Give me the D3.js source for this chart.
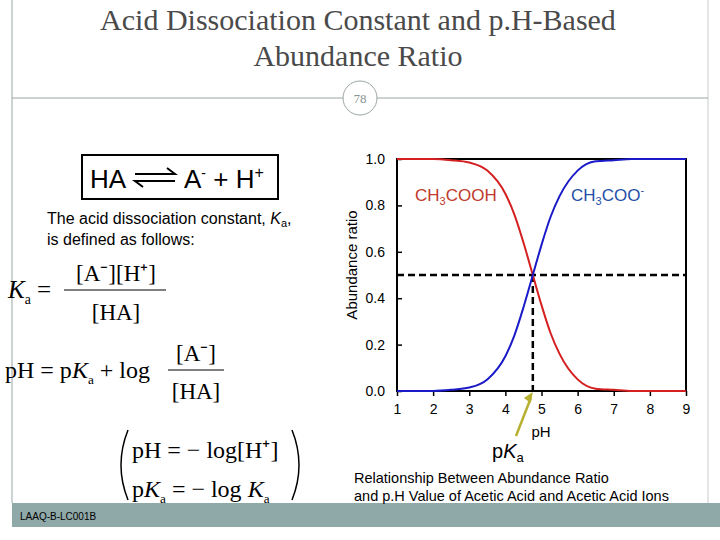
<!DOCTYPE html>
<html><head><meta charset="utf-8">
<script src="https://cdn.jsdelivr.net/npm/d3@7"></script>
<style>body{margin:0;background:#fff}svg{display:block}</style>
</head><body>
<script>
const pH = [1,1.5,2,2.5,3,3.5,4,4.25,4.5,4.76,5,5.25,5.5,6,6.5,7,7.5,8,8.5,9];
const acid = [1,1,1,0.995,0.985,0.95,0.85,0.76,0.64,0.5,0.37,0.25,0.16,0.05,0.01,0.005,0,0,0,0];
const base = [0,0,0,0.005,0.015,0.05,0.15,0.24,0.36,0.5,0.63,0.75,0.84,0.95,0.99,0.995,1,1,1,1];
const xTicks = [1,2,3,4,5,6,7,8,9];
const yTicks = [0,0.2,0.4,0.6,0.8,1.0];
const pKa = 4.76;

const svg = d3.select("body").append("svg").attr("width",720).attr("height",540);
svg.append("line").attr("x1",12).attr("x2",12).attr("y1",0).attr("y2",503).attr("stroke","#9aa5a5");
svg.append("line").attr("x1",708).attr("x2",708).attr("y1",0).attr("y2",503).attr("stroke","#c8cccc");
svg.append("line").attr("x1",12).attr("x2",708).attr("y1",98).attr("y2",98).attr("stroke","#9aa5a5");
svg.append("circle").attr("cx",360).attr("cy",98).attr("r",17).attr("fill","#fff").attr("stroke","#9aa5a5");
svg.append("text").attr("x",360).attr("y",103).attr("text-anchor","middle").attr("font-family","Liberation Serif").attr("font-size",13).attr("fill","#8a9595").text("78");
svg.append("rect").attr("x",12).attr("y",503).attr("width",708).attr("height",24).attr("fill","#8fa8a8");
svg.append("text").attr("x",20).attr("y",520).attr("font-family","Liberation Sans").attr("font-size",10).text("LAAQ-B-LC001B");
const title = svg.append("text").attr("text-anchor","middle").attr("font-family","Liberation Serif").attr("font-size",30).attr("fill","#4a4a4a");
title.append("tspan").attr("x",358).attr("y",30).text("Acid Dissociation Constant and p.H-Based");
title.append("tspan").attr("x",358).attr("y",66).text("Abundance Ratio");

svg.append("rect").attr("x",82).attr("y",155).attr("width",196).attr("height",44).attr("fill","none").attr("stroke","#000").attr("stroke-width",2);
svg.append("text").attr("x",90).attr("y",188).attr("font-family","Liberation Sans").attr("font-size",26).text("HA");
svg.append("path").attr("d","M135 174 H175 L167 168 M175 181 H135 L143 187").attr("fill","none").attr("stroke","#000").attr("stroke-width",2);
const eq2 = svg.append("text").attr("x",184).attr("y",188).attr("font-family","Liberation Sans").attr("font-size",26);
eq2.append("tspan").text("A");eq2.append("tspan").attr("dy",-10).attr("font-size",14).text("-");
eq2.append("tspan").attr("dy",10).text(" + H");eq2.append("tspan").attr("dy",-10).attr("font-size",16).text("+");
const t1 = svg.append("text").attr("font-family","Liberation Sans").attr("font-size",16);
const l1 = t1.append("tspan").attr("x",47).attr("y",224).text("The acid dissociation constant, ");
l1.append("tspan").attr("font-style","italic").text("K");
l1.append("tspan").attr("font-size",11).attr("dy",3).text("a");
l1.append("tspan").attr("dy",-3).text(",");
t1.append("tspan").attr("x",47).attr("y",245).text("is defined as follows:");

const serif = "Liberation Serif";
function R(x,y,parts,size){
  const t=svg.append("text").attr("x",x).attr("y",y).attr("font-family",serif).attr("font-size",size);
  let sub=false;
  parts.forEach(p=>{const s=t.append("tspan").text(p[0]);
    if(p[1])s.attr("font-style","italic");
    if(p[2]&&!sub){s.attr("dy",6).attr("font-size",size*0.55);sub=true;}
    else if(!p[2]&&sub){s.attr("dy",-6);sub=false;}});
  return t;}
R(8,298,[["K",1],["a",0,1],[" ="]],25);
svg.append("text").attr("x",116).attr("y",281).attr("text-anchor","middle").attr("font-family",serif).attr("font-size",23).text("[A⁻][H⁺]");
svg.append("line").attr("x1",64).attr("x2",166).attr("y1",290).attr("y2",290).attr("stroke","#000");
svg.append("text").attr("x",116).attr("y",320).attr("text-anchor","middle").attr("font-family",serif).attr("font-size",23).text("[HA]");
R(5,378,[["pH = p"],["K",1],["a",0,1],[" + log"]],24);
svg.append("text").attr("x",196).attr("y",361).attr("text-anchor","middle").attr("font-family",serif).attr("font-size",23).text("[A⁻]");
svg.append("line").attr("x1",168).attr("x2",224).attr("y1",370).attr("y2",370).attr("stroke","#000");
svg.append("text").attr("x",196).attr("y",399).attr("text-anchor","middle").attr("font-family",serif).attr("font-size",23).text("[HA]");
R(132,458,[["pH = − log[H⁺]"]],24);
R(132,497,[["p"],["K",1],["a",0,1],[" = − log "],["K",1],["a",0,1]],24);
svg.append("path").attr("d","M128 430 Q114 465 128 500").attr("fill","none").attr("stroke","#000").attr("stroke-width",1.5);
svg.append("path").attr("d","M292 430 Q306 465 292 500").attr("fill","none").attr("stroke","#000").attr("stroke-width",1.5);

const x = d3.scaleLinear().domain([1,9]).range([397,686]);
const y = d3.scaleLinear().domain([0,1]).range([391,159]);
const g = svg.append("g");
g.append("rect").attr("x",397).attr("y",159).attr("width",289).attr("height",232).attr("fill","none").attr("stroke","#000").attr("stroke-width",2);
const xa = g.append("g").attr("transform","translate(0,391)").call(d3.axisBottom(x).tickValues(xTicks).tickFormat(d3.format("d")).tickSize(5).tickPadding(8));
const ya = g.append("g").attr("transform","translate(397,0)").call(d3.axisLeft(y).tickValues(yTicks).tickFormat(d3.format(".1f")).tickSize(0).tickPadding(12));
[xa,ya].forEach(a=>{a.select(".domain").remove();a.selectAll("text").attr("font-family","Liberation Sans").attr("font-size",14);});
xa.selectAll("line").attr("stroke","#000").attr("stroke-width",1.5);
ya.selectAll(".tick").append("line").attr("x2",5).attr("stroke","#000").attr("stroke-width",1.5);
g.append("text").attr("x",541).attr("y",437).attr("text-anchor","middle").attr("font-family","Liberation Sans").attr("font-size",15).text("pH");
g.append("text").attr("transform","translate(357,265) rotate(-90)").attr("text-anchor","middle").attr("font-family","Liberation Sans").attr("font-size",15).text("Abundance ratio");
g.append("line").attr("x1",x(1)).attr("x2",x(9)).attr("y1",y(0.5)).attr("y2",y(0.5)).attr("stroke","#000").attr("stroke-width",2.5).attr("stroke-dasharray","7,4");
g.append("line").attr("x1",x(pKa)).attr("x2",x(pKa)).attr("y1",y(0.5)).attr("y2",y(0)).attr("stroke","#000").attr("stroke-width",2.5).attr("stroke-dasharray","7,4");
const line = d3.line().curve(d3.curveMonotoneX);
g.append("path").attr("d",line(pH.map((p,i)=>[x(p),y(acid[i])]))).attr("fill","none").attr("stroke","#d42020").attr("stroke-width",2);
g.append("path").attr("d",line(pH.map((p,i)=>[x(p),y(base[i])]))).attr("fill","none").attr("stroke","#1a1ac8").attr("stroke-width",2);
const la = g.append("text").attr("x",415).attr("y",201).attr("font-family","Liberation Sans").attr("font-size",17).attr("fill","#c0392b");
la.append("tspan").text("CH");la.append("tspan").attr("dy",4).attr("font-size",11).text("3");la.append("tspan").attr("dy",-4).text("COOH");
const lb = g.append("text").attr("x",571).attr("y",201).attr("font-family","Liberation Sans").attr("font-size",17).attr("fill","#1f4fa8");
lb.append("tspan").text("CH");lb.append("tspan").attr("dy",4).attr("font-size",11).text("3");lb.append("tspan").attr("dy",-4).text("COO");lb.append("tspan").attr("dy",-7).attr("font-size",11).text("-");
svg.append("line").attr("x1",516).attr("y1",436).attr("x2",x(pKa)-2).attr("y2",398).attr("stroke","#b8b030").attr("stroke-width",2.5);
svg.append("path").attr("d",`M${x(pKa)} 392 l-9 6 l7 5 z`).attr("fill","#b8b030");
const pk = svg.append("text").attr("x",492).attr("y",458).attr("font-family","Liberation Sans").attr("font-size",20);
pk.append("tspan").text("p");pk.append("tspan").attr("font-style","italic").text("K");pk.append("tspan").attr("font-size",13).attr("dy",4).text("a");
const cap = svg.append("text").attr("font-family","Liberation Sans").attr("font-size",14.5);
cap.append("tspan").attr("x",354).attr("y",483).text("Relationship Between Abundance Ratio");
cap.append("tspan").attr("x",354).attr("y",501).text("and p.H Value of Acetic Acid and Acetic Acid Ions");
</script>
</body></html>
